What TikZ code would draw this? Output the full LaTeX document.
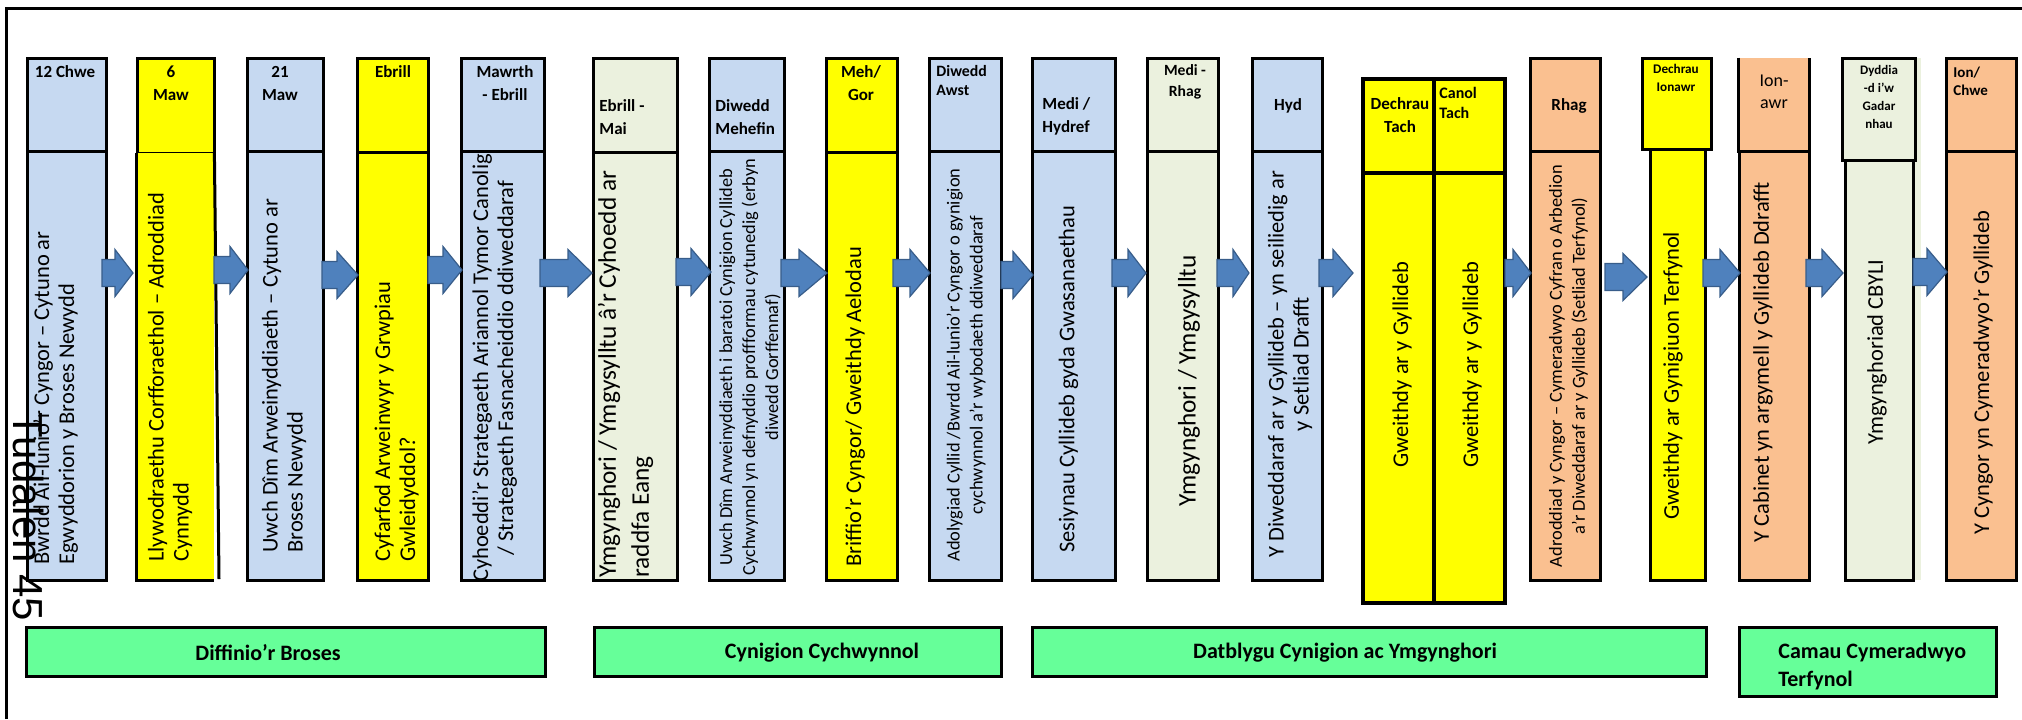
\documentclass[tikz,border=0pt]{standalone}
\usepackage{fontspec}
\setmainfont{Carlito}
\newfontfamily\arialfnt{Liberation Sans}
\usetikzlibrary{fit}
\definecolor{lblue}{HTML}{C6D9F1}
\definecolor{yel}{HTML}{FFFF00}
\definecolor{beig}{HTML}{EBF1DE}
\definecolor{orng}{HTML}{FAC090}
\definecolor{grn}{HTML}{66FF99}
\definecolor{arrfill}{HTML}{4F81BD}
\definecolor{arrdraw}{HTML}{385D8A}
\newcommand\mainfs{\fontsize{11.25}{12.5}\selectfont}
\newcommand\bigfs{\fontsize{12.65}{16.5}\selectfont}
\newcommand\smallfs{\fontsize{9.2}{11.5}\selectfont}
\newcommand\hdrfs{\bfseries\fontsize{8.5}{11.5}\selectfont}
\newcommand{\boxnode}[7]{\node[boxst,fill=#6,#7,fit={(#2,#3) (#4,#5)}] (#1) {};}
\newcommand{\barrow}[4]{\draw[arrst] (#1,#4-13.5) -- (#2,#4-13.5) -- (#2,#4-23.5) -- (#3,#4) -- (#2,#4+23.5) -- (#2,#4+13.5) -- (#1,#4+13.5) -- cycle;}
\begin{document}
\begin{tikzpicture}[x=0.5pt,y=-0.5pt,
  boxst/.style={draw=black, line width=1.5pt, inner sep=0pt, outer sep=0pt},
  arrst/.style={fill=arrfill, draw=arrdraw, line width=0.6pt, line join=miter},
  txtl/.style={rotate=90, inner sep=0pt, anchor=west, align=left, font=\mainfs},
  txtc/.style={rotate=90, inner sep=0pt, anchor=center, align=center, font=\mainfs},
  hd/.style={inner sep=0pt, align=center, font=\hdrfs},
  hdl/.style={inner sep=0pt, align=left, anchor=west, font=\hdrfs},
  grnbox/.style={draw=black, line width=1.5pt, fill=grn, inner sep=0pt},
  grntxt/.style={inner sep=0pt, font=\bfseries\fontsize{11}{14}\selectfont}]
\useasboundingbox (0,0) rectangle (2022,719);
% columns
\boxnode{c1h}{27}{58}{106}{151}{lblue}{}
\boxnode{c1b}{27}{151}{106}{580}{lblue}{}
\boxnode{c2h}{137}{58}{214}{153}{yel}{}
\node[inner sep=0pt, fill=yel, fit={(137,153) (214,580)}] (c2b) {};
\draw[line width=1.5pt] (c2b.north west) -- (c2b.south west) -- (c2b.south east);
\draw[line width=1.5pt] (c2b.north east) -- (219,579);
\boxnode{c3h}{247}{58}{323}{151}{lblue}{}
\boxnode{c3b}{247}{151}{323}{580}{lblue}{}
\boxnode{c4h}{357}{58}{428}{152}{yel}{}
\boxnode{c4b}{357}{152}{428}{580}{yel}{}
\boxnode{c5h}{461}{58}{544}{151}{lblue}{}
\boxnode{c5b}{461}{151}{544}{580}{lblue}{}
\boxnode{c6h}{593}{58}{677}{152}{beig}{}
\boxnode{c6b}{593}{152}{677}{580}{beig}{}
\boxnode{c7h}{709}{58}{784}{151}{lblue}{}
\boxnode{c7b}{709}{151}{784}{580}{lblue}{}
\boxnode{c8h}{826}{58}{897}{152}{yel}{}
\boxnode{c8b}{826}{152}{897}{580}{yel}{}
\boxnode{c9h}{929}{58}{1001}{151}{lblue}{}
\boxnode{c9b}{929}{151}{1001}{580}{lblue}{}
\boxnode{c10h}{1032}{58}{1115}{151}{lblue}{}
\boxnode{c10b}{1032}{151}{1115}{580}{lblue}{}
\boxnode{c11h}{1147}{58}{1218}{151}{beig}{}
\boxnode{c11b}{1147}{151}{1218}{580}{beig}{}
\boxnode{c12h}{1252}{58}{1322}{151}{lblue}{}
\boxnode{c12b}{1252}{151}{1322}{580}{lblue}{}
\boxnode{c13ah}{1363}{79}{1434}{173}{yel}{line width=2pt}
\boxnode{c13ab}{1363}{173}{1434}{603}{yel}{line width=2pt}
\boxnode{c13bh}{1434}{79}{1505}{173}{yel}{line width=2pt}
\boxnode{c13bb}{1434}{173}{1505}{603}{yel}{line width=2pt}
\boxnode{c14h}{1530}{58}{1600}{151}{orng}{}
\boxnode{c14b}{1530}{151}{1600}{580}{orng}{}
\boxnode{c15h}{1642}{58}{1711}{149}{yel}{}
\boxnode{c15b}{1650}{149}{1705}{580}{yel}{}
\node[inner sep=0pt, fill=orng, fit={(1739,58) (1809,151)}] (c16h) {};
\draw[line width=1.5pt] (c16h.north west) -- (c16h.south west) -- (c16h.south east) -- (c16h.north east);
\boxnode{c16b}{1739}{151}{1809}{580}{orng}{}
\fill[beig] (1913,58) rectangle (1921,580);
\boxnode{c17h}{1842}{58}{1915}{160}{beig}{}
\boxnode{c17b}{1845}{160}{1913}{580}{beig}{}
\boxnode{c18h}{1946}{58}{2016}{151}{orng}{}
\boxnode{c18b}{1946}{151}{2016}{580}{orng}{}
% headers
\node[hd] (h1) at (65,72) {12 Chwe};
\node[hd] (h2) at (171,83.5) {6\\Maw};
\node[hd] (h3) at (280,83.5) {21\\Maw};
\node[hd] (h4) at (393,72) {Ebrill};
\node[hd] (h5) at (505,83.5) {Mawrth\\- Ebrill};
\node[hdl] (h6) at (599,117) {Ebrill -\\Mai};
\node[hdl] (h7) at (715,117) {Diwedd\\Mehefin};
\node[hd] (h8) at (861,83.5) {Meh/\\Gor};
\node[hdl, font=\bfseries\fontsize{7.9}{9.5}\selectfont] (h9) at (936,80.5) {Diwedd\\Awst};
\node[hdl] (h10) at (1042,116.5) {Medi /\\Hydref};
\node[hd, font=\bfseries\fontsize{7.8}{10.5}\selectfont] (h11) at (1185,81.5) {Medi -\\Rhag};
\node[hd] (h12) at (1288,106) {Hyd};
\node[hd] (h13a) at (1400,115.5) {Dechrau\\Tach};
\node[hdl, font=\bfseries\fontsize{8}{10}\selectfont] (h13b) at (1439,103) {Canol\\Tach};
\node[hd] (h14) at (1569,106) {Rhag};
\node[hd, font=\bfseries\fontsize{6.6}{9}\selectfont] (h15) at (1676,78) {Dechrau\\Ionawr};
\node[hd, font=\fontsize{9}{11}\selectfont] (h16) at (1774,92) {Ion-\\awr};
\node[hd, font=\bfseries\fontsize{6.5}{9}\selectfont] (h17) at (1879,96.5) {Dyddia\\-d i’w\\Gadar\\nhau};
\node[hdl, font=\bfseries\fontsize{7.5}{9}\selectfont] (h18) at (1953,81) {Ion/\\Chwe};
% body texts
\node[txtl] (t1) at (55.5,565) {Bwrdd Ail-lunio’r Cyngor – Cytuno ar\\Egwyddorion y Broses Newydd};
\node[txtl] (t2) at (170,562) {Llywodraethu Corfforaethol – Adroddiad\\Cynnydd};
\node[txtl] (t3) at (284,553) {Uwch Dîm Arweinyddiaeth – Cytuno ar\\Broses Newydd};
\node[txtl] (t4) at (396.5,562) {Cyfarfod Arweinwyr y Grwpiau\\Gwleidyddol?};
\node[txtc] (t5) at (494.5,368) {Cyhoeddi’r Strategaeth Ariannol Tymor Canolig\\/ Strategaeth Fasnacheiddio ddiweddaraf};
\node[txtl, font=\bigfs] (t6) at (625.5,578) {Ymgynghori / Ymgysylltu â’r Cyhoedd ar\\raddfa Eang};
\node[txtc, font=\smallfs] (t7) at (750,367) {Uwch Dîm Arweinyddiaeth i baratoi Cynigion Cyllideb\\Cychwynnol yn defnyddio proffformau cytunedig (erbyn\\diwedd Gorffennaf)};
\node[txtl] (t8) at (855,567) {Briffio’r Cyngor/ Gweithdy Aelodau};
\node[txtc, font=\smallfs] (t9) at (966,365) {Adolygiad Cyllid /Bwrdd Ail-lunio’r Cyngor o gynigion\\cychwynnol a’r wybodaeth ddiweddaraf};
\node[txtl] (t10) at (1068.5,553) {Sesiynau Cyllideb gyda Gwasanaethau};
\node[txtl, font=\bigfs] (t11) at (1189,507) {Ymgynghori / Ymgysylltu};
\node[txtc] (t12) at (1290,364) {Y Diweddaraf ar y Gyllideb – yn seiliedig ar\\y Setliad Drafft};
\node[txtl] (t13a) at (1402,468) {Gweithdy ar y Gyllideb};
\node[txtl] (t13b) at (1472,468) {Gweithdy ar y Gyllideb};
\node[txtc, font=\smallfs] (t14) at (1568.5,366) {Adroddiad y Cyngor – Cymeradwyo Cyfran o Arbedion\\a’r Diweddaraf ar y Gyllideb (Setliad Terfynol)};
\node[txtl] (t15) at (1673,520) {Gweithdy ar Gynigiuon Terfynol};
\node[txtl] (t16) at (1763,543) {Y Cabinet yn argymell y Gyllideb Ddrafft};
\node[txtl] (t17) at (1877,445) {Ymgynghoriad CBYLI};
\node[txtl] (t18) at (1983,535) {Y Cyngor yn Cymeradwyo’r Gyllideb};
% arrows
\barrow{102}{115}{133}{273}
\barrow{214}{230}{248}{270}
\barrow{322}{337}{358}{275}
\barrow{428}{443}{462}{270}
\barrow{540}{568}{592}{273}
\barrow{676}{691}{711}{272}
\barrow{781}{799}{827}{273}
\barrow{893}{910}{930}{273}
\barrow{1001}{1013}{1033}{275}
\barrow{1112}{1128}{1146}{273}
\barrow{1217}{1233}{1249}{273}
\barrow{1319}{1333}{1353}{273}
\barrow{1505}{1513}{1531}{273}
\barrow{1605}{1623}{1647}{277}
\barrow{1703}{1720}{1740}{273}
\barrow{1806}{1822}{1843}{273}
\barrow{1913}{1927}{1947}{272}
% green phase boxes
\node[grnbox, fit={(26,627) (545,676)}] (g1) {};
\node[grnbox, fit={(594,627) (1001,676)}] (g2) {};
\node[grnbox, fit={(1032,627) (1706,676)}] (g3) {};
\node[grnbox, fit={(1739,627) (1996,696)}] (g4) {};
\node[grntxt] (g1t) at (268,653) {Diffinio’r Broses};
\node[grntxt] (g2t) at (822,653) {Cynigion Cychwynnol};
\node[grntxt] (g3t) at (1345,653) {Datblygu Cynigion ac Ymgynghori};
\node[grntxt, anchor=west, align=left] (g4t) at (1778,666) {Camau Cymeradwyo\\Terfynol};
% page number overlay
\node[rotate=-90, inner sep=0pt, font=\arialfnt\fontsize{21}{24}\selectfont] (pg) at (29,517) {Tudalen 45};
% frame
\draw[line width=1.5pt] (6,719) -- (6,8) -- (2022,8);
\end{tikzpicture}
\end{document}
